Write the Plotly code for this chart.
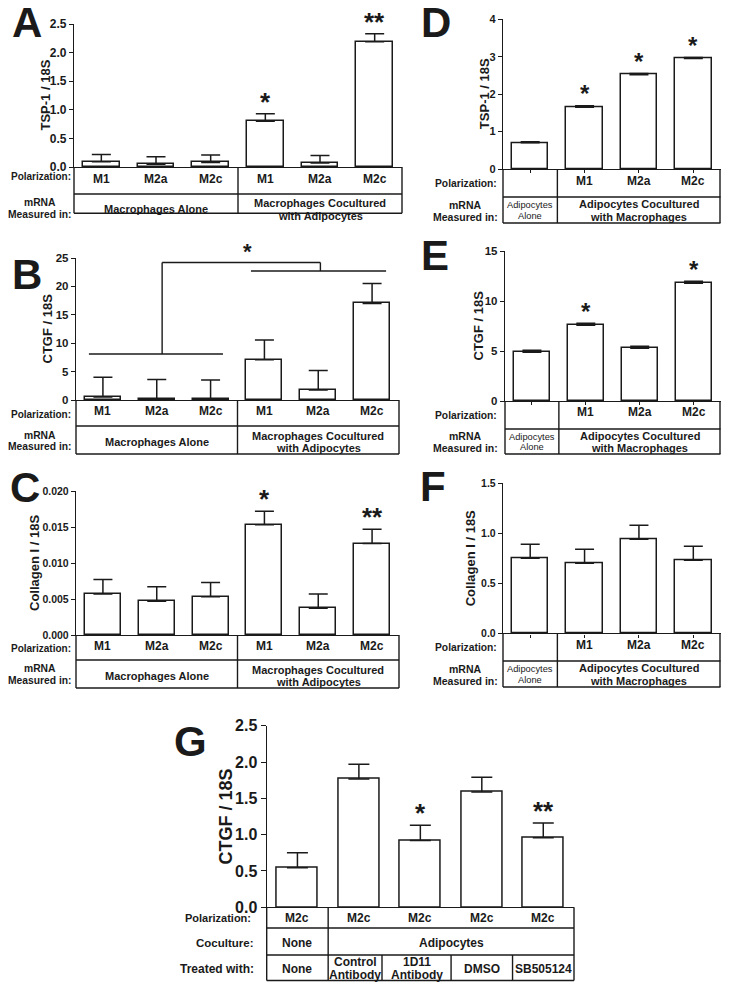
import plotly.graph_objects as go

FONT = "Liberation Sans, Arial, Helvetica, sans-serif"
INK = "#1a1a1a"
PAGE_W, PAGE_H = 729, 990
BODY = 8  # default page margin of the html body
W, H = PAGE_W - 2 * BODY, PAGE_H - 2 * BODY

# ---------------- data ----------------
mac_polarization = ["M1", "M2a", "M2c", "M1", "M2a", "M2c"]
adi_polarization = ["", "M1", "M2a", "M2c"]

A_tsp1 = [0.09, 0.05, 0.08, 0.80, 0.07, 2.19]
A_sem = [0.13, 0.13, 0.13, 0.13, 0.13, 0.14]
A_stars = ["", "", "", "*", "", "**"]

B_ctgf = [0.55, 0.18, 0.12, 7.1, 1.76, 17.0]
B_sem = [3.45, 3.45, 3.4, 3.45, 3.45, 3.5]

C_col1 = [0.0057, 0.0047, 0.0053, 0.0153, 0.0037, 0.0127]
C_sem = [0.0020, 0.0020, 0.0020, 0.0019, 0.0020, 0.0020]
C_stars = ["", "", "", "*", "", "**"]

D_tsp1 = [0.70, 1.65, 2.52, 2.95]
D_sem = [0.03, 0.04, 0.03, 0.03]
D_stars = ["", "*", "*", "*"]

E_ctgf = [4.87, 7.57, 5.27, 11.77]
E_sem = [0.2, 0.2, 0.2, 0.2]
E_stars = ["", "*", "", "*"]

F_col1 = [0.75, 0.70, 0.94, 0.73]
F_sem = [0.14, 0.14, 0.14, 0.14]
F_stars = ["", "", "", ""]

G_polarization = ["M2c", "M2c", "M2c", "M2c", "M2c"]
G_ctgf = [0.545, 1.765, 0.92, 1.586, 0.957]
G_sem = [0.205, 0.205, 0.21, 0.204, 0.203]
G_stars = ["", "", "*", "", "**"]
G_treated = ["None", "Control<br>Antibody", "1D11<br>Antibody", "DMSO", "SB505124"]

# ---------------- geometry (page pixels) ----------------
P = {
    "A": dict(ax=1, l=74, r=402, top=24, zero=167, ymax=2.5, dtick=0.5, fmt=".1f", tf=12,
              title="TSP-1 / 18S", tx=45, vals=A_tsp1, sem=A_sem, stars=A_stars, letter=(27, 22)),
    "B": dict(ax=2, l=76, r=399, top=258, zero=400, ymax=25, dtick=5, fmt="d", tf=11.5,
              title="CTGF / 18S", tx=46.5, vals=B_ctgf, sem=B_sem, stars=[""] * 6, letter=(27, 274)),
    "C": dict(ax=3, l=76, r=399, top=491, zero=635, ymax=0.020, dtick=0.005, fmt=".3f", tf=10.5,
              title="Collagen I / 18S", tx=34, vals=C_col1, sem=C_sem, stars=C_stars, letter=(25, 487)),
    "D": dict(ax=4, l=503, r=720.5, top=19.3, zero=169, ymax=4, dtick=1, fmt="d", tf=11,
              title="TSP-1 / 18S", tx=484, vals=D_tsp1, sem=D_sem, stars=D_stars, letter=(436, 22)),
    "E": dict(ax=5, l=505, r=720.5, top=251, zero=401, ymax=15, dtick=5, fmt="d", tf=11.5,
              title="CTGF / 18S", tx=477.5, vals=E_ctgf, sem=E_sem, stars=E_stars, letter=(435, 255)),
    "F": dict(ax=6, l=503, r=720.5, top=483.3, zero=633.3, ymax=1.5, dtick=0.5, fmt=".1f", tf=10.5,
              title="Collagen I / 18S", tx=470, vals=F_col1, sem=F_sem, stars=F_stars, letter=(433, 486)),
    "G": dict(ax=7, l=266.7, r=574, top=725.7, zero=907.3, ymax=2.5, dtick=0.5, fmt=".1f", tf=16,
              title="CTGF / 18S", tx=225, vals=G_ctgf, sem=G_sem, stars=G_stars, letter=(190, 741.5)),
}


def px(x):
    return min(1.0, max(0.0, (x - BODY) / W))


def py(y):
    return min(1.0, max(0.0, 1 - (y - BODY) / H))


shapes = []
annotations = []


def hline(x0, x1, y, w=1.4):
    shapes.append(dict(type="line", xref="paper", yref="paper", x0=px(x0), x1=px(x1),
                       y0=py(y), y1=py(y), line=dict(color=INK, width=w)))


def vline(x, y0, y1, w=1.4):
    shapes.append(dict(type="line", xref="paper", yref="paper", x0=px(x), x1=px(x),
                       y0=py(y0), y1=py(y1), line=dict(color=INK, width=w)))


def text(x, y, s, size, bold=True, xanchor="center", angle=0):
    annotations.append(dict(xref="paper", yref="paper", x=px(x), y=py(y), text=(f"<b>{s}</b>" if bold else s),
                            showarrow=False, xanchor=xanchor, yanchor="middle", textangle=angle,
                            borderpad=0, font=dict(family=FONT, size=size, color=INK)))


def lines(x, yc, items, size, spacing, bold=True, xanchor="center"):
    n = len(items)
    for i, s in enumerate(items):
        text(x, yc + (i - (n - 1) / 2) * spacing, s, size, bold, xanchor)


fig = go.Figure()
layout = {}

for key, p in P.items():
    n = len(p["vals"])
    k = p["ax"]
    xa = "x" if k == 1 else f"x{k}"
    ya = "y" if k == 1 else f"y{k}"
    fig.add_trace(go.Bar(
        x=list(range(n)), y=p["vals"], xaxis=xa, yaxis=ya, width=0.67,
        marker=dict(color="white", line=dict(color=INK, width=1.5)),
        error_y=dict(type="data", symmetric=False, array=p["sem"], arrayminus=[0] * n,
                     color=INK, thickness=1.5, width=10.5 if key == "G" else 9.5),
        hoverinfo="skip", showlegend=False))
    adi = key in ("D", "E", "F")
    layout["xaxis" if k == 1 else f"xaxis{k}"] = dict(
        domain=[px(p["l"]), px(p["r"])], range=[-0.5, n - 0.5], anchor=ya,
        showline=True, linecolor=INK, linewidth=1.4, showticklabels=False,
        ticks="outside" if adi else "", ticklen=3, tickwidth=1.2, tickcolor=INK,
        tickvals=list(range(n)), showgrid=False, zeroline=False, fixedrange=True, automargin=False)
    layout["yaxis" if k == 1 else f"yaxis{k}"] = dict(
        domain=[py(p["zero"]), py(p["top"])], range=[0, p["ymax"]], anchor=xa,
        dtick=p["dtick"], tick0=0, tickformat=p["fmt"], ticks="outside",
        ticklen=5 if key == "G" else 4, tickwidth=1.3, tickcolor=INK,
        showline=True, linecolor=INK, linewidth=1.4, showgrid=False, zeroline=False,
        tickfont=dict(family=FONT, size=p["tf"], color=INK, weight="bold"), fixedrange=True,
        automargin=False)
    # stars
    for i, s in enumerate(p["stars"]):
        if s:
            size = 26 if key in ("A", "C", "G") else 24
            annotations.append(dict(xref=xa, yref=ya, x=i, y=p["vals"][i] + p["sem"][i], text=f"<b>{s}</b>",
                                    showarrow=False, yanchor="middle", yshift=12,
                                    font=dict(family=FONT, size=size, color=INK)))
    # y title
    tsize = 18 if key == "G" else 13
    text(p["tx"], (p["top"] + p["zero"]) / 2, p["title"], tsize, angle=-90)
    # panel letter
    text(p["letter"][0], p["letter"][1], key, 42)

# ---------------- tables ----------------
# A, B, C
rowsABC = {"A": [167, 194, 213.3], "B": [400, 426, 454], "C": [635, 660, 688]}
polyABC = {"A": (178.5, 176), "B": (411, 414), "C": (646, 648.5)}
row2ABC = {"A": 209.5, "B": 442, "C": 675.5}
for key in "ABC":
    p = P[key]
    l, r = p["l"], p["r"]
    rows = rowsABC[key]
    slot = (r - l) / 6
    hline(l, r, rows[1])
    hline(l, r, rows[2])
    vline(l, rows[0], rows[2])
    vline(r, rows[0], rows[2])
    vline(l + 3 * slot, rows[0], rows[2])
    for i, s in enumerate(mac_polarization):
        text(l + (i + 0.5) * slot, polyABC[key][0], s, 12)
    text(71.5, polyABC[key][1], "Polarization:", 10, xanchor="right")
    lines(40, row2ABC[key] - 1, ["mRNA", "Measured in:"], 10.3, 11.5)
    text(l + 1.5 * slot, row2ABC[key], "Macrophages Alone", 11)
    lines(l + 4.5 * slot, row2ABC[key], ["Macrophages Cocultured", "with Adipocytes"], 11, 12)

# D, E, F
rowsDEF = {"D": [169, 197, 223], "E": [401, 429, 454], "F": [633.3, 661, 687]}
polyDEF = {"D": (180.5, 183), "E": (412, 415), "F": (644.5, 647)}
row2DEF = {"D": 210.5, "E": 442, "F": 674.5}
for key in "DEF":
    p = P[key]
    l, r = p["l"], p["r"]
    rows = rowsDEF[key]
    slot = (r - l) / 4
    hline(l, r, rows[1])
    hline(l, r, rows[2])
    vline(l, rows[0], rows[2])
    vline(r - 0.5, rows[0], rows[2])
    vline(l + slot, rows[0], rows[2])
    for i, s in enumerate(adi_polarization):
        if s:
            text(l + (i + 0.5) * slot, polyDEF[key][0], s, 12)
    text(497.5, polyDEF[key][1], "Polarization:", 10.3, xanchor="right")
    lines(465, row2DEF[key], ["mRNA", "Measured in:"], 10.5, 12)
    lines(l + 0.5 * slot, row2DEF[key], ["Adipocytes", "Alone"], 9.3, 10.5, bold=False)
    lines(l + 2.5 * slot, row2DEF[key], ["Adipocytes Cocultured", "with Macrophages"], 11, 12.5)

# G
pg = P["G"]
l, r = pg["l"], pg["r"]
slot = (r - l) / 5
rows = [907.3, 928, 955, 980.5]
for yy in rows[1:]:
    hline(l, r, yy)
vline(l, rows[0], rows[3])
vline(r, rows[0], rows[3])
vline(l + slot, rows[0], rows[3])
treat_splits = [l + slot, 382, l + 3 * slot, l + 4 * slot, r]
for xx in treat_splits[1:4]:
    vline(xx, rows[2], rows[3])
for i, s in enumerate(G_polarization):
    text(l + (i + 0.5) * slot, 918, s, 12)
text(252, 918, "Polarization:", 11, xanchor="right")
text(255, 942.5, "Coculture:", 11.5, xanchor="right")
text(255, 968.5, "Treated with:", 12, xanchor="right")
text(l + 0.5 * slot, 943, "None", 12)
text(l + 3 * slot, 943, "Adipocytes", 12)
edges = [l] + treat_splits
for i, s in enumerate(G_treated):
    cx = (edges[i] + edges[i + 1]) / 2
    lines(cx, 968.5, s.split("<br>"), 12, 13)

# ---------------- B significance bracket ----------------
for x0, x1, y0, y1 in [(-0.26, 2.23, 8.1, 8.1), (1.10, 1.10, 8.1, 24.2), (1.10, 4.04, 24.2, 24.2),
                       (4.04, 4.04, 24.2, 22.7), (2.75, 5.26, 22.7, 22.7)]:
    shapes.append(dict(type="line", xref="x2", yref="y2", x0=x0, x1=x1, y0=y0, y1=y1,
                       line=dict(color=INK, width=1.4)))
annotations.append(dict(xref="x2", yref="y2", x=2.68, y=24.2, text="<b>*</b>", showarrow=False,
                        yanchor="middle", yshift=11, font=dict(family=FONT, size=22, color=INK)))

fig.update_layout(
    width=W, height=H, autosize=False, margin=dict(l=0, r=0, t=0, b=0, pad=0, autoexpand=False),
    paper_bgcolor="white", plot_bgcolor="white", showlegend=False, bargap=0,
    shapes=shapes, annotations=annotations, font=dict(family=FONT, color=INK), **layout)

fig.write_html("out.html")
